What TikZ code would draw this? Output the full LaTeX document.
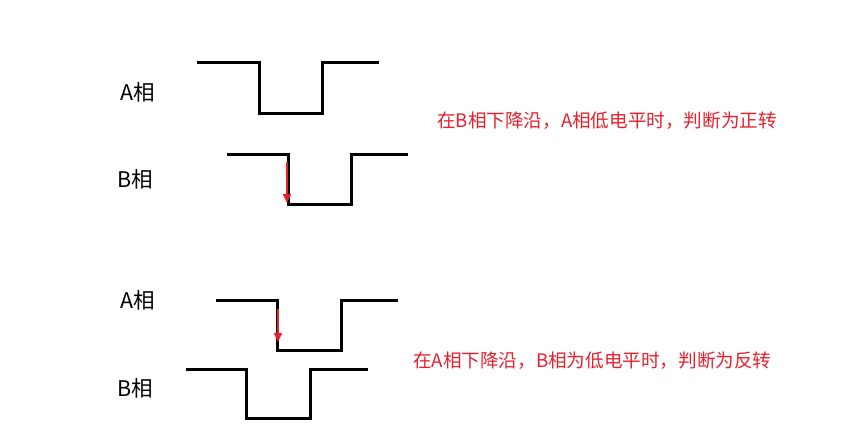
\documentclass[tikz,border=0pt]{standalone}
\usepackage{fontspec}
\setmainfont{Noto Sans CJK SC}
\usetikzlibrary{arrows.meta}
\definecolor{myred}{RGB}{232,32,44}
\tikzset{
  wave/.style={line width=3pt, black, line join=miter},
  phase/.style={font=\fontsize{21.5}{24}\selectfont, inner sep=0pt},
  note/.style={font=\fontsize{18.6}{22}\selectfont, text=myred, inner sep=0pt, anchor=west},
  edgearrow/.style={line width=2pt, myred, -{Triangle[length=9pt,width=8pt]}}
}
\begin{document}
\begin{tikzpicture}[x=1pt,y=-1pt]
\useasboundingbox (0,0) rectangle (848,436);
% labels
\node[phase] (la1) at (138,92) {A相};
\node[phase] (lb1) at (135,179) {B相};
\node[phase] (la2) at (138,300) {A相};
\node[phase] (lb2) at (135,388) {B相};
% waveforms
\draw[wave] (197,63) -- (259,63) -- (259,113) -- (322,113) -- (322,63) -- (379,63);
\draw[wave] (227,154) -- (288,154) -- (288,204) -- (351,204) -- (351,154) -- (408,154);
\draw[wave] (216,300) -- (277,300) -- (277,350) -- (341,350) -- (341,300) -- (398,300);
\draw[wave] (186,369) -- (246,369) -- (246,418) -- (310,418) -- (310,369) -- (368,369);
% arrows
\coordinate (a1s) at (287,162);
\coordinate (a1e) at (287,203);
\coordinate (a2s) at (278,309);
\coordinate (a2e) at (278,342);
\draw[edgearrow] (a1s) -- (a1e);
\draw[edgearrow] (a2s) -- (a2e);
% notes
\node[note] (n1) at (437,121) {在B相下降沿，A相低电平时，判断为正转};
\node[note] (n2) at (413,361) {在A相下降沿，B相为低电平时，判断为反转};
\end{tikzpicture}
\end{document}
